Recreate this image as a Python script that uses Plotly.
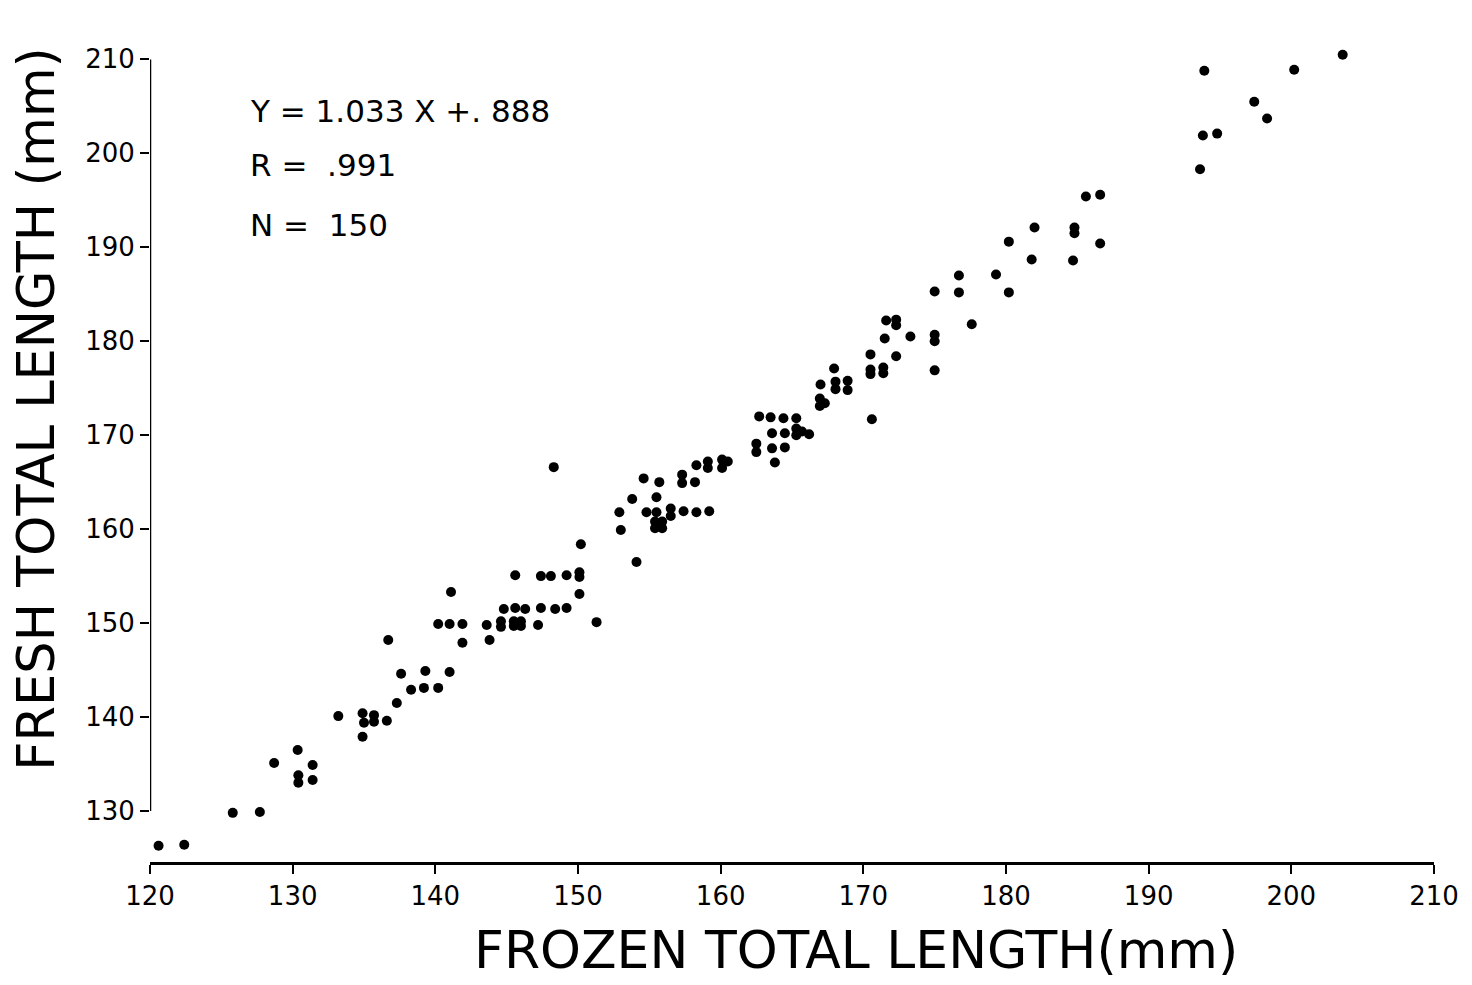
import plotly.graph_objects as go

# Frozen total length (mm) -> x ; Fresh total length (mm) -> y
frozen = [
    120.6, 122.4, 125.8, 127.7, 128.7, 130.35, 130.4, 130.4, 131.4, 131.4,
    133.2, 134.9, 135.0, 135.7, 135.7, 136.6, 134.9, 137.3, 138.3, 139.2, 140.2,
    150.2, 145.6, 147.4, 148.1, 149.2, 150.1, 150.1, 141.1, 150.1, 144.8,
    145.6, 146.3, 147.4, 148.4, 149.2, 140.2, 141.0, 141.9, 143.6, 144.6,
    144.6, 145.5, 146.0, 145.5, 146.0, 147.2, 151.3, 136.7, 141.9, 143.8,
    137.6, 139.3, 141.0,
    148.3, 154.1, 152.9, 153.0, 153.8, 154.6, 155.7, 155.5, 154.8, 155.5,
    155.4, 155.9, 155.4, 155.9, 156.5, 156.5, 157.4, 158.3, 159.2, 157.3,
    157.3, 158.2, 158.3, 159.1, 159.1, 160.1, 160.1, 160.5, 162.5, 162.5,
    163.6, 164.5, 163.8, 163.6, 164.5, 165.3, 165.3, 166.2,
    162.7, 163.5, 164.4, 165.3, 165.7, 167.0, 166.95, 166.95, 167.3, 167.95,
    168.05, 168.05, 168.9, 168.9, 170.5, 170.5, 170.5, 171.4, 171.4, 170.6,
    171.6, 172.3, 172.3, 171.5, 173.3, 172.3, 175.0, 175.0, 175.0, 177.6,
    185.6, 186.6, 182.0, 184.8, 184.8, 180.2, 186.6, 181.8, 184.7, 176.7,
    179.3, 176.7, 180.2, 175.0,
    193.9, 203.6, 200.2, 197.4, 198.3, 193.8, 194.8, 193.6,
]
fresh = [
    126.3, 126.4, 129.8, 129.9, 135.1, 136.5, 133.8, 133.0, 134.9, 133.3,
    140.1, 140.4, 139.4, 140.2, 139.5, 139.6, 137.9, 141.5, 142.9, 143.1, 143.1,
    158.4, 155.1, 155.0, 155.0, 155.1, 155.4, 154.9, 153.3, 153.1, 151.5,
    151.6, 151.5, 151.6, 151.5, 151.6, 149.9, 149.9, 149.9, 149.8, 150.2,
    149.6, 150.2, 150.2, 149.7, 149.7, 149.8, 150.1, 148.2, 147.9, 148.2,
    144.6, 144.9, 144.8,
    166.6, 156.5, 161.8, 159.9, 163.2, 165.4, 165.0, 163.4, 161.8, 161.8,
    160.8, 160.8, 160.1, 160.1, 162.2, 161.4, 161.9, 161.8, 161.9, 165.8,
    164.9, 165.0, 166.8, 167.2, 166.5, 167.4, 166.5, 167.2, 169.1, 168.2,
    168.6, 168.7, 167.1, 170.2, 170.2, 170.7, 170.0, 170.1,
    172.0, 171.9, 171.8, 171.8, 170.4, 175.4, 173.9, 173.1, 173.4, 177.1,
    175.7, 174.9, 175.8, 174.8, 178.6, 177.0, 176.5, 177.2, 176.6, 171.7,
    182.2, 182.3, 181.7, 180.3, 180.5, 178.4, 180.7, 180.0, 176.9, 181.8,
    195.4, 195.6, 192.1, 192.1, 191.5, 190.6, 190.4, 188.7, 188.6, 187.0,
    187.1, 185.2, 185.2, 185.3,
    208.8, 210.5, 208.9, 205.5, 203.7, 201.9, 202.1, 198.3,
]

x_ticks = [120, 130, 140, 150, 160, 170, 180, 190, 200, 210]
y_ticks = [130, 140, 150, 160, 170, 180, 190, 200, 210]

stats_lines = ["Y = 1.033 X +. 888", "R =  .991", "N =  150"]

FONT = "DejaVu Sans"

fig = go.Figure()
fig.add_trace(go.Scatter(
    x=frozen, y=fresh, mode="markers",
    marker=dict(color="black", size=10, line=dict(width=0)),
    cliponaxis=False, showlegend=False, hoverinfo="x+y",
))

fig.update_layout(
    width=1464, height=977,
    paper_bgcolor="white", plot_bgcolor="white",
    margin=dict(l=142, r=38, t=42, b=123, autoexpand=False),
    font=dict(family=FONT, color="black"),
    showlegend=False,
)
fig.update_xaxes(
    range=[120, 210], tickvals=x_ticks, ticktext=[str(v) for v in x_ticks],
    showgrid=False, zeroline=False, showline=True, linecolor="black", linewidth=2.5,
    ticks="outside", ticklen=9, tickwidth=2, tickcolor="black",
    tickfont=dict(family=FONT, size=26, color="black"), automargin=False,
)
fig.update_yaxes(
    range=[124.57, 211], tickvals=y_ticks, ticktext=[str(v) for v in y_ticks],
    showgrid=False, zeroline=False, showline=False,
    ticks="outside", ticklen=9, tickwidth=2, tickcolor="black",
    tickfont=dict(family=FONT, size=26, color="black"), automargin=False,
)
# Left axis line spanning only the labelled range
fig.add_shape(type="line", xref="x", yref="y", x0=120, x1=120, y0=y_ticks[0], y1=y_ticks[-1],
              line=dict(color="black", width=2.5))

# Axis titles
fig.add_annotation(text="FROZEN TOTAL LENGTH(mm)", xref="paper", yref="paper",
                   x=0.55, y=-0.108, xanchor="center", yanchor="middle", showarrow=False,
                   font=dict(family=FONT, size=52, color="black"))
fig.add_annotation(text="FRESH TOTAL LENGTH (mm)", xref="paper", yref="paper",
                   x=-0.088, y=0.557, xanchor="center", yanchor="middle", showarrow=False,
                   textangle=-90, font=dict(family=FONT, size=51, color="black"))

# Regression statistics
for line, yp in zip(stats_lines, [0.925, 0.858, 0.784]):
    fig.add_annotation(text=line, xref="paper", yref="paper", x=0.0763, y=yp,
                       xanchor="left", yanchor="middle", showarrow=False,
                       font=dict(family=FONT, size=31, color="black"))

fig.write_html("out.html")
